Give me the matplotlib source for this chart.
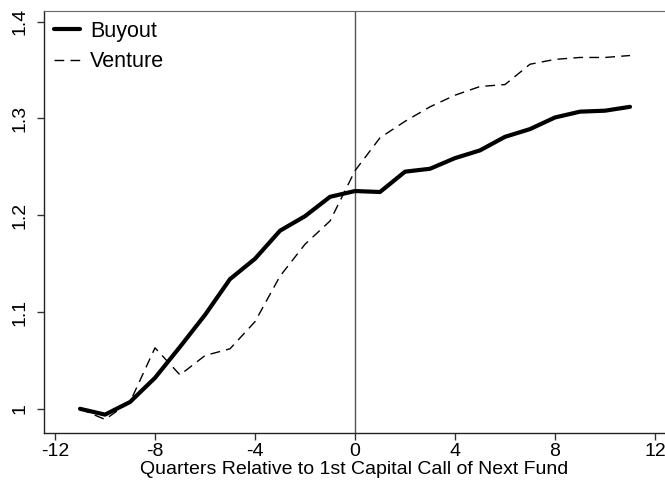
import matplotlib
matplotlib.use("Agg")
import matplotlib.pyplot as plt

plt.rcParams["font.family"] = ["Liberation Sans", "DejaVu Sans"]

quarters = list(range(-11, 12))
buyout = [1.000, 0.994, 1.007, 1.032, 1.064, 1.097, 1.134, 1.155, 1.184, 1.199, 1.219,
          1.225, 1.224, 1.245, 1.248, 1.259, 1.267, 1.281, 1.289, 1.301, 1.307, 1.308, 1.312]
venture = [1.000, 0.989, 1.007, 1.063, 1.035, 1.055, 1.062, 1.090, 1.137, 1.170, 1.194,
           1.246, 1.280, 1.297, 1.312, 1.324, 1.333, 1.335, 1.356, 1.361, 1.363, 1.363, 1.365]
xticks = [-12, -8, -4, 0, 4, 8, 12]
yticks = [1.0, 1.1, 1.2, 1.3, 1.4]
ytick_labels = ["1", "1.1", "1.2", "1.3", "1.4"]

fig = plt.figure(figsize=(6.65, 4.87), dpi=100)
ax = fig.add_axes([44 / 665, 54 / 487, 621 / 665, 422 / 487])

ax.axvline(0, color="#555555", lw=1.0, zorder=1)
ax.plot(quarters, buyout, color="black", lw=3.0, label="Buyout", solid_capstyle="round", zorder=3)
ax.plot(quarters, venture, color="black", lw=1.0, ls=(0, (7, 4.5)), label="Venture", zorder=2)

ax.set_xlim(-12.44, 12.4)
ax.set_ylim(0.975, 1.411)
ax.set_xticks(xticks)
ax.set_xticklabels([str(t) for t in xticks], fontsize=14)
ax.set_yticks(yticks)
ax.set_yticklabels(ytick_labels, fontsize=14, rotation=90, va="center")
ax.tick_params(direction="out", length=5, width=1, color="#333333")
ax.tick_params(axis="x", pad=2)
ax.tick_params(axis="y", pad=6)
ax.set_xlabel("Quarters Relative to 1st Capital Call of Next Fund", fontsize=14, labelpad=1)

ax.spines["right"].set_visible(False)
ax.spines["top"].set_color("#666666")
for s in ("left", "bottom"):
    ax.spines[s].set_color("#222222")
    ax.spines[s].set_linewidth(1.0)

ax.legend(loc="upper left", frameon=False, fontsize=15.5, handlelength=1.2,
          borderaxespad=0.15, borderpad=0.3, handletextpad=0.5, labelspacing=0.45)

fig.savefig("out.png", dpi=100)
